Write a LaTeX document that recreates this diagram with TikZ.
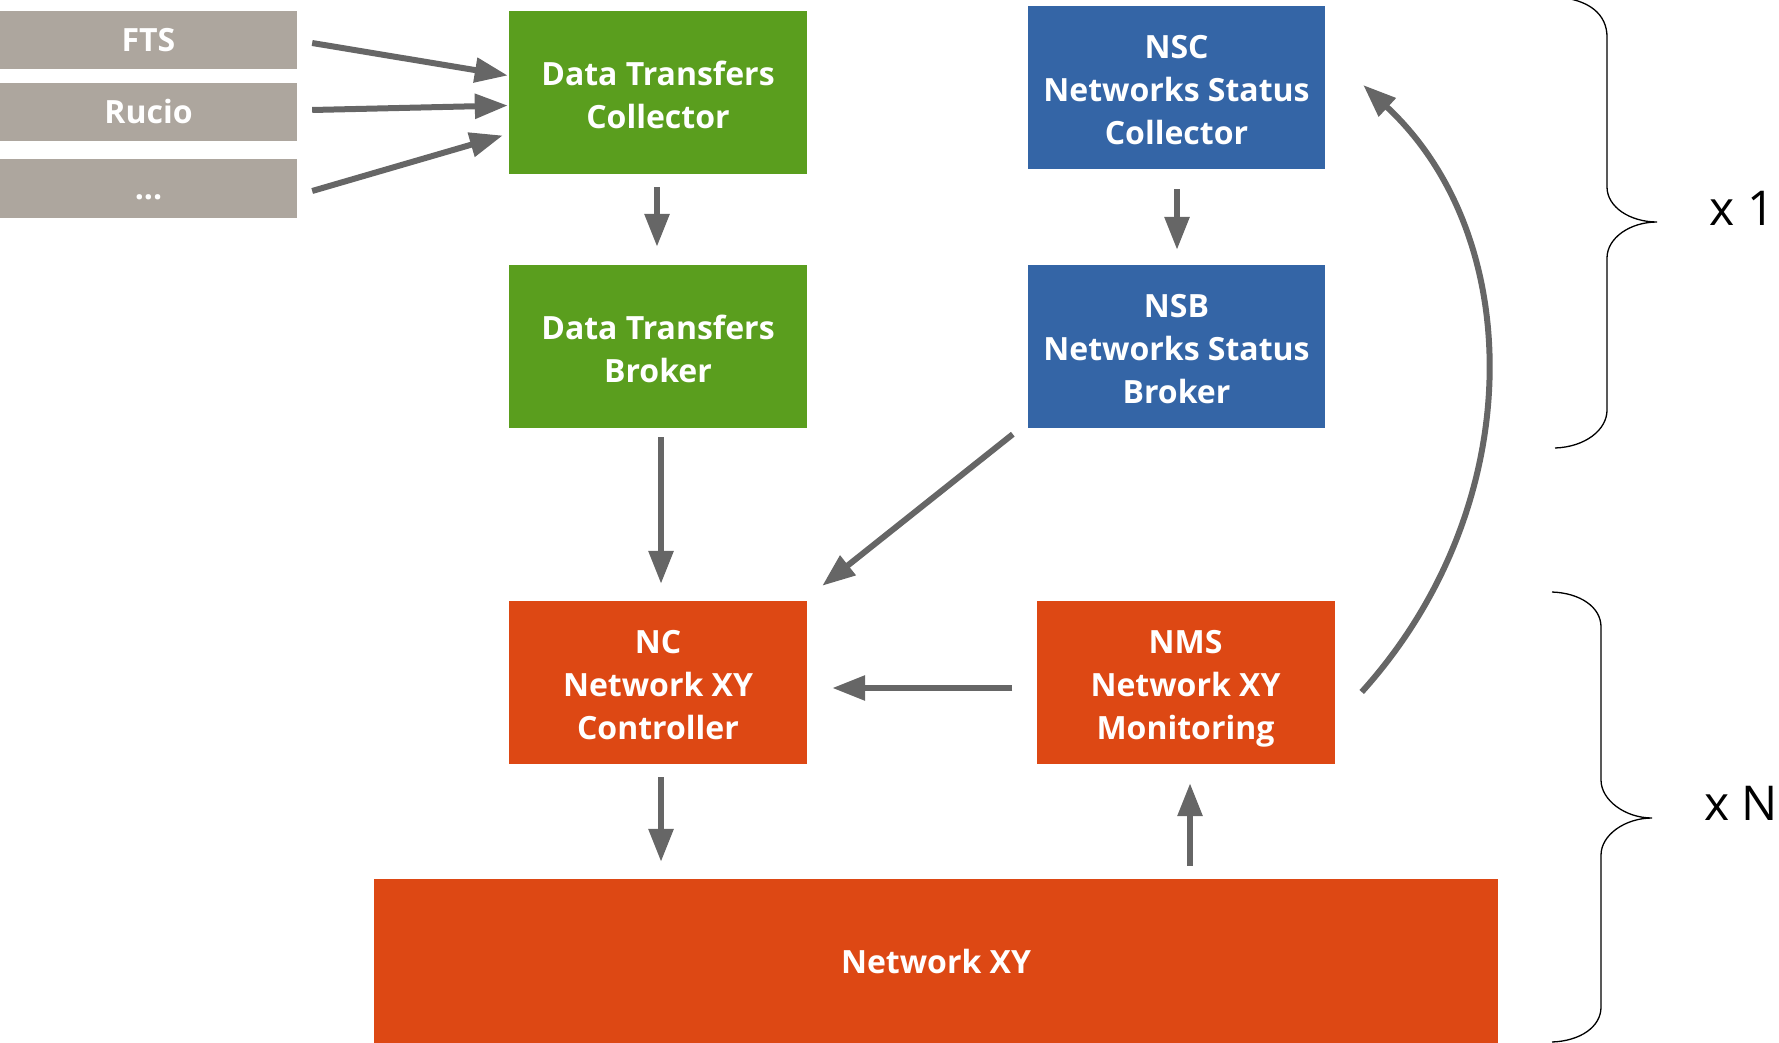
\documentclass[tikz,border=0pt]{standalone}
\usepackage{fontspec}
\setmainfont{Open Sans}
\usetikzlibrary{arrows.meta,calc}
\definecolor{gbox}{HTML}{ADA69E}
\definecolor{grbox}{HTML}{5A9E1E}
\definecolor{blbox}{HTML}{3465A6}
\definecolor{orbox}{HTML}{DD4814}
\definecolor{arrgray}{HTML}{666666}
\newcommand\topst{\rule{0pt}{36.5pt}}
\newcommand\botst{\vphantom{g}}
\begin{document}
\begin{tikzpicture}[x=1pt,y=-1pt,
  box/.style={draw=none, inner sep=0pt, align=center, text=white,
    font=\fontsize{32}{43}\selectfont\bfseries},
  srcbox/.style={box, fill=gbox, minimum width=297pt, minimum height=58pt},
  greenbox/.style={box, fill=grbox, minimum width=298pt, minimum height=163pt},
  bluebox/.style={box, fill=blbox, minimum width=297pt, minimum height=163pt},
  orangebox/.style={box, fill=orbox, minimum width=298pt, minimum height=163pt},
  arr/.style={draw=arrgray, line width=6pt, -{Triangle[length=33pt,width=24pt]}},
  brace/.style={draw=black, line width=1.3pt},
  mult/.style={inner sep=0pt, font=\fontsize{48}{52}\selectfont}]
\useasboundingbox (0,0) rectangle (1779,1043);

% source boxes
\node[srcbox] (fts) at (148.5,40) {\vphantom{FTS}FTS};
\node[srcbox] (rucio) at (148.5,112) {\vphantom{FTS}Rucio};
\node[srcbox] (etc) at (148.5,188.5) {\vphantom{FTS}...};

% green
\node[greenbox] (dtc) at (658,92.5) {\topst Data Transfers\\Collector\botst};
\node[greenbox] (dtb) at (658,346.5) {\topst Data Transfers\\Broker\botst};

% blue
\node[bluebox] (nsc) at (1176.5,87.5) {\topst NSC\\Networks Status\\Collector\botst};
\node[bluebox] (nsb) at (1176.5,346.5) {\topst NSB\\Networks Status\\Broker\botst};

% orange
\node[orangebox] (nc) at (658,682.5) {\topst NC\\Network XY\\Controller\botst};
\node[orangebox] (nms) at (1185.5,682.5) {\topst NMS\\Network XY\\Monitoring\botst};
\node[box, fill=orbox, minimum width=1124pt, minimum height=170pt] (net) at (936,964) {Network XY\rule[-5.5pt]{0pt}{0pt}};

% arrows
\draw[arr] ($(fts.east)+(15,3)$) -- ($(dtc.west)+(-1,-17)$);
\draw[arr] ($(rucio.east)+(15,-2)$) -- ($(dtc.west)+(-1,13)$);
\draw[arr] ($(etc.east)+(15,2.5)$) -- ($(dtc.west)+(-6,43)$);
\draw[arr] ($(dtc.south)+(-1,13)$) -- ($(dtb.north)+(-1,-18)$);
\draw[arr] ($(dtb.south)+(3,9)$) -- ($(nc.north)+(3,-17)$);
\draw[arr] ($(nsc.south)+(0.5,20)$) -- ($(nsb.north)+(0.5,-15)$);
\draw[arr] ($(nsb.south west)+(-15,6)$) -- ($(nc.north east)+(15,-15)$);
\draw[arr] ($(nms.west)+(-24,5.5)$) -- ($(nc.east)+(25,5.5)$);
\draw[arr] ($(nc.south)+(3,13)$) -- ($(net.north)+(-275,-17)$);
\draw[arr] ($(net.north)+(254,-13)$) -- ($(nms.south)+(4.5,19)$);
\draw[arr] ($(nms.east)+(27,9.5)$) .. controls (1528,508) and (1528,238) .. ($(nsc.east)+(38,-2.5)$);

% braces
\draw[brace] (1555,-3) .. controls (1590,-1) and (1607,15) .. (1607,37) -- (1607,187)
  .. controls (1607,207) and (1630,222) .. (1657,222)
  .. controls (1630,222) and (1607,238) .. (1607,258) -- (1607,410)
  .. controls (1607,430) and (1585,447) .. (1555,448);
\draw[brace] (1552,592) .. controls (1580,593) and (1601,607) .. (1601,627) -- (1601,780)
  .. controls (1601,800) and (1625,818) .. (1652,818)
  .. controls (1625,818) and (1601,835) .. (1601,855) -- (1601,1007)
  .. controls (1601,1027) and (1580,1041) .. (1552,1042);

\node[mult] (x1) at (1742,208) {x 1};
\node[mult] (xn) at (1741,803) {x N};
\end{tikzpicture}
\end{document}
